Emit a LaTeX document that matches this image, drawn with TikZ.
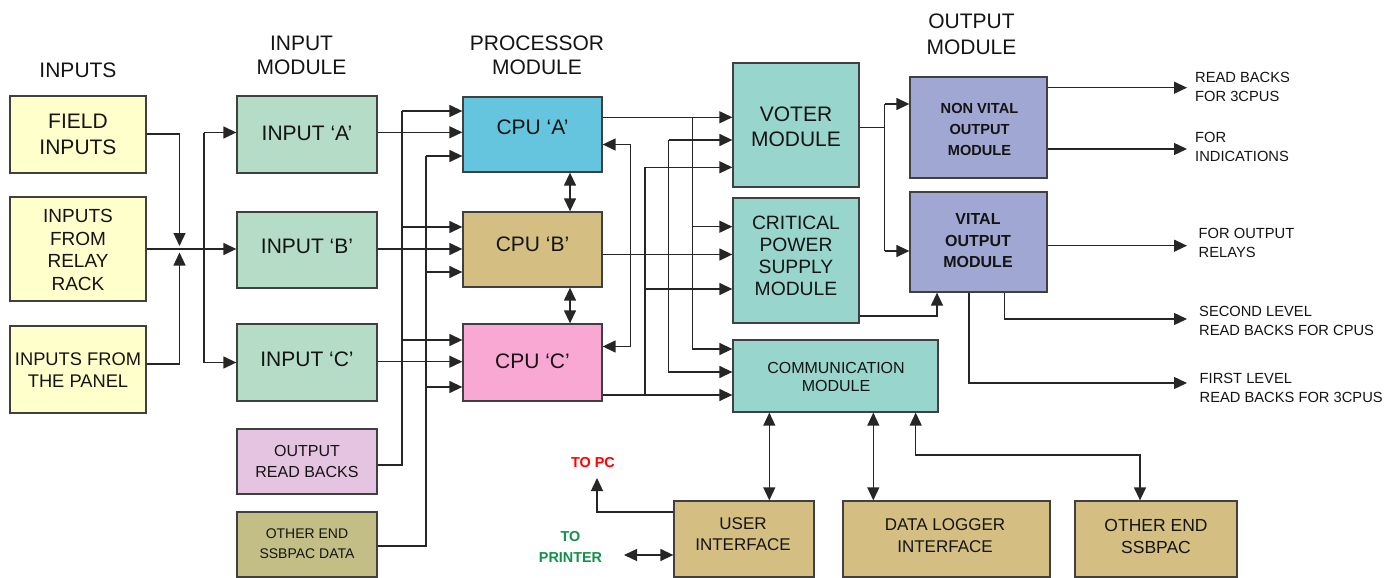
\documentclass[tikz,border=0pt]{standalone}
\usepackage{fontspec}
\setmainfont{Liberation Sans}
\usetikzlibrary{arrows.meta}
\newcommand\fs[2]{\fontsize{#1}{#2}\selectfont}
\definecolor{cFI}{HTML}{FFFFCC}
\definecolor{cIN}{HTML}{B4DCC6}
\definecolor{cCA}{HTML}{66C5DE}
\definecolor{cCB}{HTML}{D4BE82}
\definecolor{cCC}{HTML}{F9A7D3}
\definecolor{cVO}{HTML}{98D5CC}
\definecolor{cOUT}{HTML}{A1A7D3}
\definecolor{cORB}{HTML}{E4C4E1}
\definecolor{cOES}{HTML}{C2BE85}
\definecolor{cTAN}{HTML}{D4BE82}
\definecolor{cGRN}{HTML}{12904A}
\newcommand\bx[6]{\node[box,fill=#2,minimum width={#5-#3},minimum height={#6-#4}] (#1) at ({(#3+#5)/2},{(#4+#6)/2}) {};}
\begin{document}
\begin{tikzpicture}[x=1pt,y=-1pt,
  box/.style={draw=black!75,line width=1.3pt,inner sep=0pt},
  txt/.style={align=center,inner sep=0pt,text=black!92},
  lab/.style={align=left,anchor=west,inner sep=0pt,text=black!92,font=\fs{14.7}{19}},
  con/.style={line width=1.35pt,draw=black!85},
  arr/.style={con,-{Triangle[length=13pt,width=12pt]}},
  darr/.style={con,{Triangle[length=13pt,width=12pt]}-{Triangle[length=13pt,width=12pt]}}]
\useasboundingbox (0,0) rectangle (1395,578);
% boxes
\bx{fi}{cFI}{10}{96}{146}{173}
\bx{rr}{cFI}{10}{197}{146}{301}
\bx{pn}{cFI}{10}{326}{146}{413}
\bx{ia}{cIN}{237}{96}{377}{173}
\bx{ib}{cIN}{237}{212}{377}{288}
\bx{ic}{cIN}{237}{324}{377}{401}
\bx{orb}{cORB}{237}{429}{377}{494}
\bx{oes}{cOES}{237}{512}{377}{577}
\bx{ca}{cCA}{463}{97}{602}{172}
\bx{cb}{cCB}{463}{212}{602}{287}
\bx{cc}{cCC}{463}{324}{602}{401}
\bx{vot}{cVO}{733}{63}{859}{187}
\bx{cps}{cVO}{733}{198}{859}{323}
\bx{com}{cVO}{733}{340}{938}{412}
\bx{nv}{cOUT}{910}{77}{1047}{178}
\bx{vi}{cOUT}{910}{192}{1047}{292}
\bx{ui}{cTAN}{674}{501}{814}{577}
\bx{dl}{cTAN}{843}{501}{1050}{577}
\bx{oe}{cTAN}{1075}{501}{1237}{577}
% box texts
\node[txt,font=\fs{21}{25.5}] (fiT) at (78,134.5) {FIELD\\INPUTS};
\node[txt,font=\fs{19}{22.5}] (rrT) at (78,250) {INPUTS\\FROM\\RELAY\\RACK};
\node[txt,font=\fs{18.3}{22}] (pnT) at (78,370) {INPUTS FROM\\THE PANEL};
\node[txt,font=\fs{21}{25}] (iaT) at (307,133) {INPUT ‘A’};
\node[txt,font=\fs{21}{25}] (ibT) at (307,246.5) {INPUT ‘B’};
\node[txt,font=\fs{21}{25}] (icT) at (307,359.5) {INPUT ‘C’};
\node[txt,font=\fs{16}{21}] (orbT) at (307,461) {OUTPUT\\READ BACKS};
\node[txt,font=\fs{14}{20.5}] (oesT) at (307,543.5) {OTHER END\\SSBPAC DATA};
\node[txt,font=\fs{21}{25}] (caT) at (532.5,127.5) {CPU ‘A’};
\node[txt,font=\fs{21}{25}] (cbT) at (532.5,244) {CPU ‘B’};
\node[txt,font=\fs{21}{25}] (ccT) at (532.5,361) {CPU ‘C’};
\node[txt,font=\fs{21}{25}] (votT) at (796,127) {VOTER\\MODULE};
\node[txt,font=\fs{19.3}{22}] (cpsT) at (796,255.5) {CRITICAL\\POWER\\SUPPLY\\MODULE};
\node[txt,font=\fs{16}{18}] (comT) at (836,377) {COMMUNICATION\\MODULE};
\node[txt,font=\bfseries\fs{14.6}{21}] (nvT) at (979.5,129.5) {NON VITAL\\OUTPUT\\MODULE};
\node[txt,font=\bfseries\fs{16}{21.5}] (viT) at (978,241) {VITAL\\OUTPUT\\MODULE};
\node[txt,font=\fs{17}{21.5}] (uiT) at (743,534) {USER\\INTERFACE};
\node[txt,font=\fs{17}{22}] (dlT) at (945,535.5) {DATA LOGGER\\INTERFACE};
\node[txt,font=\fs{17.5}{22}] (oeT) at (1156,536.5) {OTHER END\\SSBPAC};
% titles
\node[txt,font=\fs{21}{25}] (tIn) at (78,70.5) {INPUTS};
\node[txt,font=\fs{21}{24.5}] (tInM) at (301.5,55.5) {INPUT\\MODULE};
\node[txt,font=\fs{21}{24.5}] (tPr) at (537,55.5) {PROCESSOR\\MODULE};
\node[txt,font=\fs{21}{26}] (tOut) at (971.5,34.5) {OUTPUT\\MODULE};
% right labels
\node[lab] (l1) at (1195,87) {READ BACKS\\FOR 3CPUS};
\node[lab] (l2) at (1195,147) {FOR\\INDICATIONS};
\node[lab] (l3) at (1198.5,243) {FOR OUTPUT\\RELAYS};
\node[lab] (l4) at (1199,320.5) {SECOND LEVEL\\READ BACKS FOR CPUS};
\node[lab] (l5) at (1199.5,388) {FIRST LEVEL\\READ BACKS FOR 3CPUS};
\node[txt,font=\bfseries\fs{14.4}{21},text=red] (tpc) at (593,463) {TO PC};
\node[txt,font=\bfseries\fs{14.4}{21},text=cGRN] (tpr) at (570.5,546.5) {TO\\PRINTER};
% helper coordinates
\coordinate (h134) at (0,134);
\coordinate (j1) at (179.5,246);
\coordinate (j2) at (179.5,252.5);
\coordinate (h364) at (0,364);
\coordinate (fanA) at (204,132.5);
\coordinate (fanC) at (204,362.5);
\coordinate (yIA) at (0,132.3);
\coordinate (yIB) at (0,249);
\coordinate (yIC) at (0,361.7);
\coordinate (L1a) at (402,111);
\coordinate (L1b) at (402,227);
\coordinate (L1c) at (402,340);
\coordinate (y465) at (0,465);
\coordinate (L2a) at (426,156);
\coordinate (L2b) at (426,272);
\coordinate (L2c) at (426,387);
\coordinate (y546) at (0,546);
\coordinate (x570) at (570,0);
\coordinate (A1) at (692.7,117.3);
\coordinate (A2) at (692.7,226.7);
\coordinate (A3) at (692.7,349);
\coordinate (yB) at (0,254.5);
\coordinate (B1) at (668.5,140);
\coordinate (B3) at (668.5,372);
\coordinate (C1) at (645,167.3);
\coordinate (C2) at (645,289);
\coordinate (C3) at (645,395);
\coordinate (F1) at (630.7,144.5);
\coordinate (F2) at (630.7,346.5);
\coordinate (V0) at (884.8,127.3);
\coordinate (V1) at (884.8,104);
\coordinate (V2) at (884.8,251);
\coordinate (P1) at (937,316);
\coordinate (o1) at (1187,87.7);
\coordinate (o2) at (1187,149);
\coordinate (o3) at (1187,245.7);
\coordinate (o4) at (1187,319);
\coordinate (o5) at (1187,383);
\coordinate (x1005) at (1004.7,0);
\coordinate (x969) at (969,0);
\coordinate (x769) at (769.3,0);
\coordinate (x873) at (873.3,0);
\coordinate (E1) at (915.7,455);
\coordinate (E2) at (1140,455);
\coordinate (T1) at (597,512);
\coordinate (T2) at (597,478);
\coordinate (PR) at (624,555);
% input side
\draw[arr] (fi.east |- h134) -| (j1);
\draw[arr] (pn.east |- h364) -| (j2);
\draw[arr] (rr.east |- yIB) -- (ib.west |- yIB);
\draw[con] (fanA) -- (fanC);
\draw[arr] (fanA) -- (ia.west |- fanA);
\draw[arr] (fanC) -- (ic.west |- fanC);
\draw[arr] (ia.east |- yIA) -- (ca.west |- yIA);
\draw[arr] (ic.east |- yIC) -- (cc.west |- yIC);
\draw[arr] (ib.east |- yIB) -- (cb.west |- yIB);
% read backs and other end data
\draw[con] (orb.east |- y465) -| (L1a);
\draw[arr] (L1a) -- (ca.west |- L1a);
\draw[arr] (L1b) -- (cb.west |- L1b);
\draw[arr] (L1c) -- (cc.west |- L1c);
\draw[con] (oes.east |- y546) -| (L2a);
\draw[arr] (L2a) -- (ca.west |- L2a);
\draw[arr] (L2b) -- (cb.west |- L2b);
\draw[arr] (L2c) -- (cc.west |- L2c);
% cpu links
\draw[darr] (ca.south -| x570) -- (cb.north -| x570);
\draw[darr] (cb.south -| x570) -- (cc.north -| x570);
\draw[darr] (ca.east |- F1) -- (F1) -- (F2) -- (cc.east |- F2);
% cpu A
\draw[arr] (ca.east |- A1) -- (vot.west |- A1);
\draw[arr] (A2) -- (cps.west |- A2);
\draw[arr] (A1) |- (com.west |- A3);
% cpu B
\draw[arr] (cb.east |- yB) -- (cps.west |- yB);
\draw[arr] (B1) -- (vot.west |- B1);
\draw[arr] (B1) |- (com.west |- B3);
% cpu C
\draw[arr] (cc.east |- C3) -- (com.west |- C3);
\draw[arr] (C3) |- (vot.west |- C1);
\draw[arr] (C2) -- (cps.west |- C2);
% voter outputs
\draw[con] (vot.east |- V0) -- (V0);
\draw[con] (V1) -- (V2);
\draw[arr] (V1) -- (nv.west |- V1);
\draw[arr] (V2) -- (vi.west |- V2);
\draw[arr] (cps.east |- P1) -| (vi.south -| P1);
% output module outputs
\draw[arr] (nv.east |- o1) -- (o1);
\draw[arr] (nv.east |- o2) -- (o2);
\draw[arr] (vi.east |- o3) -- (o3);
\draw[arr] (vi.south -| x1005) |- (o4);
\draw[arr] (vi.south -| x969) |- (o5);
% bottom
\draw[darr] (com.south -| x769) -- (ui.north -| x769);
\draw[darr] (com.south -| x873) -- (dl.north -| x873);
\draw[darr] (com.south -| E1) -- (E1) -- (E2) -- (oe.north -| E2);
\draw[arr] (ui.west |- T1) -| (T2);
\draw[darr] (PR) -- (ui.west |- PR);
\end{tikzpicture}
\end{document}
